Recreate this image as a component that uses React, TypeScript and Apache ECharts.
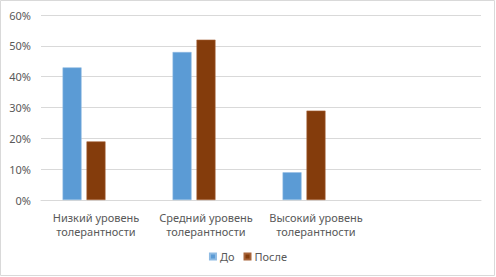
import React, { useEffect, useRef } from "react";
import * as echarts from "echarts";

const categories = ["Низкий уровень\nтолерантности", "Средний уровень\nтолерантности", "Высокий уровень\nтолерантности", ""];
const seriesNames = ["До", "После"];
const before = [0.43, 0.48, 0.09, null];
const after = [0.19, 0.52, 0.29, null];
const hidden = [null, null, null, null];
const yTicks = { min: 0, max: 0.6, interval: 0.1 };

export default function App() {
  const ref = useRef<HTMLDivElement>(null);
  useEffect(() => {
    if (!ref.current) return;
    const chart = echarts.init(ref.current, undefined, { renderer: "svg" });
    const font = "Noto Sans";
    chart.setOption({
      animation: false,
      backgroundColor: "#ffffff",
      graphic: [
        {
          type: "rect",
          shape: { x: 0.5, y: 0.5, width: 494, height: 275 },
          style: { fill: "none", stroke: "#d9d9d9", lineWidth: 1 },
          silent: true,
        },
      ],
      grid: { left: 41, right: 15, top: 15, bottom: 77 },
      legend: {
        data: seriesNames,
        bottom: 10,
        left: "center",
        icon: "rect",
        itemWidth: 6,
        itemHeight: 6,
        itemGap: 9,
        textStyle: { color: "#595959", fontSize: 11, fontFamily: font, padding: [0, 0, 0, -1] },
      },
      xAxis: {
        type: "category",
        data: categories,
        axisLine: { lineStyle: { color: "#d9d9d9" } },
        axisTick: { show: false },
        axisLabel: {
          color: "#595959",
          fontSize: 11,
          fontFamily: font,
          lineHeight: 14,
          margin: 10,
          interval: 0,
        },
      },
      yAxis: {
        type: "value",
        min: yTicks.min,
        max: yTicks.max,
        interval: yTicks.interval,
        axisLine: { show: false },
        axisTick: { show: false },
        splitLine: { lineStyle: { color: "#d9d9d9" } },
        axisLabel: {
          color: "#595959",
          fontSize: 11,
          fontFamily: font,
          margin: 10,
          formatter: (v: number) => Math.round(v * 100) + "%",
        },
      },
      series: [
        {
          name: seriesNames[0],
          type: "bar",
          data: before,
          barWidth: 19,
          barGap: "26%",
          itemStyle: { color: "#5b9bd5", borderColor: "#8fbbe3", borderWidth: 0.6 },
        },
        {
          name: seriesNames[1],
          type: "bar",
          data: after,
          barWidth: 19,
          barGap: "26%",
          itemStyle: { color: "#843c0c", borderColor: "#a8643a", borderWidth: 0.6 },
        },
        {
          name: "hidden",
          type: "bar",
          data: hidden,
          barWidth: 19,
          barGap: "26%",
        },
      ],
    });
    return () => chart.dispose();
  }, []);
  return (
    <div
      ref={ref}
      style={{ position: "fixed", left: 0, top: 0, width: 496, height: 277 }}
    />
  );
}
